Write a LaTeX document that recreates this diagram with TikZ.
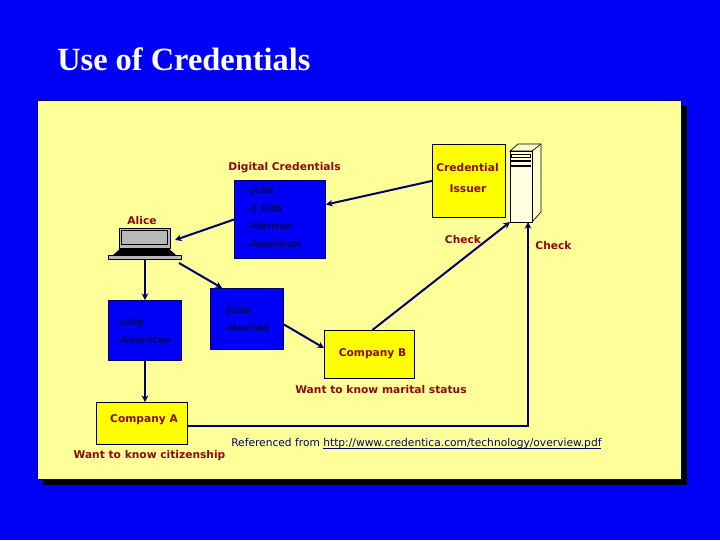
\documentclass[tikz,border=0pt]{standalone}
\usepackage{fontspec}
\setmainfont{DejaVu Sans}
\newfontfamily\titlefont{Liberation Serif}
\definecolor{bgblue}{HTML}{0000FA}
\definecolor{panel}{HTML}{FFFF99}
\definecolor{navy}{HTML}{00006A}
\definecolor{lbl}{HTML}{8A0A0A}
\definecolor{compy}{HTML}{FFFF00}
\definecolor{greyb}{HTML}{B8B8B8}
\definecolor{srv}{HTML}{FFFFCC}
\tikzset{
  box/.style={draw=navy,line width=0.75pt,inner sep=0pt,anchor=north west},
  bluebox/.style={box,fill=bgblue},
  yellowbox/.style={box,draw=black,line width=0.6pt,fill=compy},
  lab/.style={text=lbl,font=\fontsize{8}{9.6}\selectfont\bfseries,inner sep=0pt},
  item/.style={text=navy,font=\fontsize{7}{9}\selectfont\bfseries,inner sep=0pt,anchor=west},
  conn/.style={draw=navy,line width=1.5pt},
  arr/.style={conn,-{Stealth[length=5pt,width=5pt]}},
}
\usetikzlibrary{arrows.meta}
\begin{document}
\begin{tikzpicture}[x=0.75pt,y=-0.75pt]
\useasboundingbox (0,0) rectangle (720,540);
\fill[bgblue] (0,0) rectangle (720,540);
\node[anchor=west,inner sep=0pt,text=white,font=\titlefont\fontsize{24.3}{28}\selectfont\bfseries] (title) at (57,59) {Use of Credentials};
\fill[black] (43,106) rectangle (687,485);
\draw[fill=panel,draw=navy,line width=0.4pt] (37,100) rectangle (681,479);
% boxes
\node[bluebox,minimum width=91*0.75pt,minimum height=78*0.75pt] (dc) at (234,180) {};
\node[yellowbox,minimum width=73*0.75pt,minimum height=73*0.75pt] (issuer) at (432,144) {};
\node[bluebox,minimum width=73*0.75pt,minimum height=60*0.75pt] (lb) at (108,300) {};
\node[bluebox,minimum width=73*0.75pt,minimum height=61*0.75pt] (mb) at (210,288) {};
\node[yellowbox,minimum width=90*0.75pt,minimum height=48*0.75pt] (cb) at (324,330) {};
\node[yellowbox,minimum width=91*0.75pt,minimum height=42*0.75pt] (ca) at (96,402) {};
% server
\draw[fill=srv,draw=black,line width=0.5pt] (510,151) -- (518,144) -- (541,144) -- (541,212) -- (532,222) -- (532,151) -- cycle;
\draw[black,line width=0.5pt] (532,151) -- (541,144);
\node[box,draw=black,line width=0.5pt,fill=srv!60!white,minimum width=22*0.75pt,minimum height=71*0.75pt] (srvf) at (510,151) {};
\draw[black,line width=0.5pt,fill=srv] (511.5,154) rectangle (530,157);
\fill[black] (511,160) rectangle (531,162);
\fill[black] (511,165) rectangle (531,167);
% laptop
\fill[black] (122,247) -- (167,247) -- (176,255) -- (113,255) -- cycle;
\node[box,draw=black,fill=greyb,line width=0.5pt,minimum width=51*0.75pt,minimum height=20*0.75pt] (scr) at (119,228) {};
\draw[fill=greyb,draw=black,line width=0.7pt] (121.5,230.5) rectangle (167,244.5);
\node[box,draw=black,line width=0.5pt,fill=greyb,minimum width=73*0.75pt,minimum height=4*0.75pt] (lap) at (108,255) {};
\coordinate (lapin) at (175,240);
\coordinate (lapout) at (179,263);
\coordinate (mbin) at (222,288);
\coordinate (srvin) at (510,222);
\coordinate (srvbot) at (528,222);
\coordinate (corner) at (528,426);
% connectors
\draw[arr] (issuer.west) -- (dc.18);
\draw[arr] (dc.west) -- (lapin);
\draw[arr] (lap.south -| lb.north) -- (lb.north);
\draw[arr] (lb.south) -- (lb.south |- ca.north);
\draw[arr] (lapout) -- (mbin);
\draw[arr] (mb.east) ++(0,5.5) -- (cb.west |- 0,348);
\draw[arr] (cb.north) ++(3,0) -- (srvin);
\draw[arr] (ca.east |- corner) -- (corner) -- (srvbot);
% labels
\node[lab] (l1) at (284.5,167.5) {Digital Credentials};
\node[lab] (l2) at (467.5,168) {Credential};
\node[lab] (l3) at (468,188.5) {Issuer};
\node[lab] (l4) at (142,221) {Alice};
\node[lab] (l5) at (463,240) {Check};
\node[lab] (l6) at (553.5,245.5) {Check};
\node[lab] (l7) at (372.5,353.5) {Company B};
\node[lab] (l8) at (381,389.5) {Want to know marital status};
\node[lab] (l9) at (144,419.5) {Company A};
\node[lab] (l10) at (149.5,455.5) {Want to know citizenship};
\node[item] (i1) at (247,190.5) {-Julie};
\node[item] (i2) at (247,208.5) {-3 kids};
\node[item] (i3) at (247,226.5) {-Married};
\node[item] (i4) at (247,244.5) {-American};
\node[item] (i5) at (117,322.5) {-Julie};
\node[item] (i6) at (117,340.5) {-American};
\node[item] (i7) at (224,310.5) {-Julie};
\node[item] (i8) at (224,328.5) {-Married};
\node[anchor=west,inner sep=0pt,text=navy,font=\fontsize{8}{9}\selectfont] (ref) at (231,443.5) {Referenced from \underline{\smash{http://www.credentica.com/technology/overview.pdf}}};
\end{tikzpicture}
\end{document}
